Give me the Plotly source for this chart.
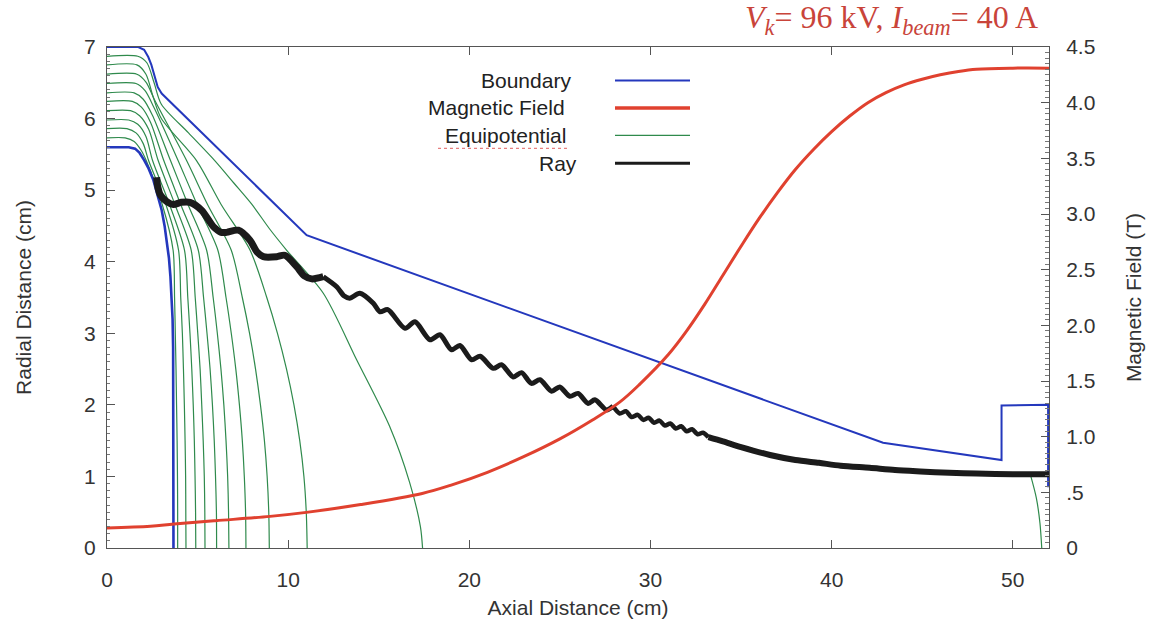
import plotly.graph_objects as go

# ---------------- data ----------------
# Boundary (outer electrode) and cathode, cm
outer_x = [0, 1.73, 2.05, 2.28, 2.45, 2.56, 2.68, 2.8, 3.02, 11.02, 42.84, 49.38, 49.38, 51.95, 51.95]
outer_y = [7.0, 7.0, 6.96, 6.86, 6.75, 6.66, 6.53, 6.44, 6.35, 4.37, 1.47, 1.23, 1.99, 2.0, 0.85]
cath_x = [0, 1.2, 1.55, 1.8, 2.05, 2.3, 2.56, 2.8, 3.02, 3.18, 3.3, 3.42, 3.5, 3.57, 3.62, 3.65, 3.66, 3.67, 3.67]
cath_y = [5.6, 5.6, 5.58, 5.52, 5.42, 5.3, 5.14, 4.94, 4.72, 4.5, 4.3, 4.05, 3.8, 3.5, 3.2, 2.8, 2.3, 1.5, 0]

# Magnetic field on axis (T) vs axial distance (cm)
bz_x = [0, 2.4, 3.7, 6, 9, 11, 14, 17.4, 19, 21, 23, 25, 26.8, 28.3, 29.4, 31, 32, 33, 34, 35, 36, 37, 38, 39, 40,
        41, 42, 43, 44, 45, 46, 47, 48, 50, 52]
bz_t = [0.18, 0.195, 0.215, 0.245, 0.284, 0.32, 0.39, 0.49, 0.565, 0.68, 0.82, 0.98, 1.15, 1.31, 1.47, 1.74, 1.95,
        2.19, 2.45, 2.71, 2.96, 3.19, 3.40, 3.58, 3.74, 3.88, 4.00, 4.09, 4.16, 4.21, 4.25, 4.28, 4.30, 4.31, 4.31]

# Equipotential lines (cm)
eq_lines = [
    ([0, 1.0, 1.5, 1.9, 2.17, 3.05, 3.65, 3.73, 3.77, 3.81, 3.84, 3.87, 3.89, 3.9, 3.9],
     [5.73, 5.73, 5.68, 5.55, 5.41, 4.8, 4.16, 3.5, 3.0, 2.5, 2.0, 1.5, 1.0, 0.5, 0]),
    ([0, 1.1, 1.6, 2.0, 2.3, 3.25, 3.95, 4.07, 4.16, 4.22, 4.27, 4.31, 4.34, 4.35, 4.36],
     [5.86, 5.86, 5.8, 5.65, 5.41, 4.8, 4.16, 3.5, 3.0, 2.5, 2.0, 1.5, 1.0, 0.5, 0]),
    ([0, 1.2, 1.7, 2.15, 2.52, 3.45, 4.28, 4.46, 4.58, 4.68, 4.76, 4.82, 4.86, 4.89, 4.90],
     [5.98, 5.98, 5.92, 5.75, 5.41, 4.8, 4.16, 3.5, 3.0, 2.5, 2.0, 1.5, 1.0, 0.5, 0]),
    ([0, 1.3, 1.8, 2.3, 2.83, 3.75, 4.65, 4.87, 5.01, 5.14, 5.23, 5.31, 5.37, 5.40, 5.41],
     [6.11, 6.11, 6.04, 5.85, 5.41, 4.8, 4.16, 3.5, 3.0, 2.5, 2.0, 1.5, 1.0, 0.5, 0]),
    ([0, 1.4, 1.9, 2.4, 3.14, 4.07, 5.04, 5.33, 5.52, 5.69, 5.82, 5.92, 5.99, 6.04, 6.05],
     [6.24, 6.24, 6.16, 5.95, 5.41, 4.8, 4.16, 3.5, 3.0, 2.5, 2.0, 1.5, 1.0, 0.5, 0]),
    ([0, 1.5, 2.0, 2.5, 3.51, 4.47, 5.5, 5.86, 6.09, 6.29, 6.45, 6.57, 6.66, 6.71, 6.73],
     [6.36, 6.36, 6.27, 6.05, 5.41, 4.8, 4.16, 3.5, 3.0, 2.5, 2.0, 1.5, 1.0, 0.5, 0]),
    ([0, 1.6, 2.1, 2.6, 3.93, 4.97, 6.12, 6.57, 6.86, 7.11, 7.31, 7.47, 7.58, 7.65, 7.67],
     [6.49, 6.49, 6.39, 6.15, 5.41, 4.8, 4.16, 3.5, 3.0, 2.5, 2.0, 1.5, 1.0, 0.5, 0]),
    ([0, 1.65, 2.15, 2.65, 4.4, 5.55, 6.86, 7.47, 7.87, 8.2, 8.47, 8.69, 8.84, 8.93, 8.96],
     [6.62, 6.62, 6.51, 6.25, 5.41, 4.8, 4.16, 3.5, 3.0, 2.5, 2.0, 1.5, 1.0, 0.5, 0]),
    ([0, 1.65, 2.15, 2.55, 3.0, 4.95, 6.3, 7.9, 8.82, 9.41, 9.91, 10.32, 10.64, 10.87, 11.0, 11.05],
     [6.75, 6.75, 6.62, 6.3, 6.0, 5.41, 4.8, 4.16, 3.5, 3.0, 2.5, 2.0, 1.5, 1.0, 0.5, 0]),
    ([0, 1.7, 2.2, 2.6, 3.0, 4.5, 5.96, 7.0, 8.0, 9.0, 9.92, 11.94, 13.78, 15.6, 16.7, 17.3, 17.42],
     [6.87, 6.87, 6.78, 6.5, 6.2, 5.8, 5.41, 5.1, 4.8, 4.45, 4.16, 3.56, 2.63, 1.70, 0.92, 0.3, 0]),
    ([51.0, 51.3, 51.5, 51.6],
     [1.0, 0.7, 0.35, 0]),
]

# Electron ray (cm): resolved wiggles, then the dense band
ray_a_x = [2.74, 2.80, 2.95, 3.3, 3.66, 4.1, 4.58, 5.22, 5.87, 6.3, 6.6, 7.25, 7.89, 8.3, 8.63, 9.37, 9.82, 10.47, 10.9, 11.3, 11.94]
ray_a_y = [5.18, 5.05, 4.93, 4.84, 4.80, 4.83, 4.83, 4.72, 4.49, 4.41, 4.41, 4.44, 4.30, 4.13, 4.07, 4.07, 4.09, 3.93, 3.80, 3.76, 3.79]
ray_b_x = [11.94, 12.68, 13.1, 13.4, 13.96, 14.7, 15.07, 15.5, 16.45, 17.0, 17.83, 18.38, 19.02, 19.48, 20.13, 20.6, 21.32, 21.78,
           22.42, 22.88, 23.43, 23.9, 24.54, 24.99, 25.55, 26.0, 26.56, 26.93, 27.58, 27.94]
ray_b_y = [3.79, 3.65, 3.52, 3.49, 3.56, 3.42, 3.30, 3.33, 3.07, 3.16, 2.91, 2.98, 2.77, 2.83, 2.63, 2.68, 2.51, 2.56,
           2.39, 2.45, 2.30, 2.35, 2.19, 2.25, 2.12, 2.16, 2.02, 2.07, 1.93, 1.98]
ray_c_x = [27.94, 28.3, 28.65, 28.95, 29.3, 29.6, 29.9, 30.2, 30.5, 30.8, 31.1, 31.4, 31.7, 32.0, 32.3, 32.6, 32.9, 33.2]
ray_c_y = [1.98, 1.88, 1.91, 1.83, 1.86, 1.79, 1.82, 1.75, 1.78, 1.71, 1.74, 1.67, 1.70, 1.63, 1.66, 1.59, 1.61, 1.55]
ray_d_x = [33.2, 34.0, 35.0, 36.6, 38.0, 39.3, 40.5, 42.1, 43.5, 44.9, 46.5, 48.0, 50.0, 52.0]
ray_d_y = [1.55, 1.49, 1.41, 1.30, 1.23, 1.19, 1.15, 1.12, 1.09, 1.07, 1.05, 1.04, 1.03, 1.03]

legend_names = ["Boundary", "Magnetic Field", "Equipotential", "Ray"]

BLUE = "#2438bd"
RED = "#e0412f"
GREEN = "#2f8a4c"
BLACK = "#1b1b1b"

fig = go.Figure()

for ex, ey in eq_lines:
    fig.add_trace(go.Scatter(x=ex, y=ey, mode="lines", line=dict(color=GREEN, width=1.2, shape="spline", smoothing=0.8),
                             showlegend=False, hoverinfo="skip"))

fig.add_trace(go.Scatter(x=bz_x, y=bz_t, yaxis="y2", mode="lines", line=dict(color=RED, width=3, shape="spline"),
                         showlegend=False, hoverinfo="skip"))

fig.add_trace(go.Scatter(x=outer_x, y=outer_y, mode="lines", line=dict(color=BLUE, width=2), showlegend=False, hoverinfo="skip"))
fig.add_trace(go.Scatter(x=cath_x, y=cath_y, mode="lines", line=dict(color=BLUE, width=2.6), showlegend=False, hoverinfo="skip"))

for rx, ry, w in [(ray_a_x, ray_a_y, 7), (ray_b_x, ray_b_y, 5), (ray_c_x, ray_c_y, 4.5), (ray_d_x, ray_d_y, 6)]:
    fig.add_trace(go.Scatter(x=rx, y=ry, mode="lines", line=dict(color=BLACK, width=w, shape="spline", smoothing=0.8),
                             showlegend=False, hoverinfo="skip"))

# custom legend: text on the left, line sample on the right
L, R, T, B = 107, 1049, 46.5, 548.5
W, H = R - L, B - T
def px(xp):
    return (xp - L) / W
def py(yp):
    return (B - yp) / H

FONT = "Liberation Sans, Arial"
leg_rows = [80, 107.5, 135, 163]
leg_text_right = [573, 567, 568, 579]
leg_colors = [BLUE, RED, GREEN, BLACK]
leg_widths = [2, 3.5, 1.2, 3]
for name, yr, xr, c, w in zip(legend_names, leg_rows, leg_text_right, leg_colors, leg_widths):
    fig.add_annotation(x=px(xr), y=py(yr), xref="paper", yref="paper", text=name, showarrow=False,
                       xanchor="right", yanchor="middle", font=dict(family=FONT, size=21, color="#222"))
    fig.add_shape(type="line", xref="paper", yref="paper", x0=px(615), x1=px(690), y0=py(yr), y1=py(yr),
                  line=dict(color=c, width=w))
# spell-check squiggle under "Equipotential" as seen in the reference
fig.add_shape(type="line", xref="paper", yref="paper", x0=px(438), x1=px(567), y0=py(148), y1=py(148),
              line=dict(color="#e06060", width=1, dash="dot"))

fig.add_annotation(x=px(1040), y=py(19), xref="paper", yref="paper", showarrow=False, xanchor="right", yanchor="middle",
                   text="<i>V</i><sub><i>k</i></sub>= 96 kV, <i>I</i><sub><i>beam</i></sub>= 40 A",
                   font=dict(family="Liberation Serif, Times New Roman", size=32, color="#c9443a"))

axfont = dict(family=FONT, size=21, color="#333")
fig.update_layout(
    width=1154, height=631,
    margin=dict(l=L, r=1154 - R, t=T, b=631 - B),
    paper_bgcolor="white", plot_bgcolor="white",
    showlegend=False,
    xaxis=dict(range=[0, 52], tickvals=[0, 10, 20, 30, 40, 50], ticks="inside", ticklen=8, tickcolor="#555",
               showline=True, linecolor="#555", linewidth=1, mirror="ticks", showgrid=False, zeroline=False,
               tickfont=axfont, ticklabelstandoff=13,
               title=dict(text="Axial Distance (cm)", font=axfont, standoff=10)),
    yaxis=dict(range=[0, 7], tickvals=[0, 1, 2, 3, 4, 5, 6, 7], ticks="inside", ticklen=8, tickcolor="#555",
               showline=True, linecolor="#555", linewidth=1, mirror=True, showgrid=False, zeroline=False,
               tickfont=axfont, ticklabelstandoff=6,
               minor=dict(dtick=0.1, ticks="inside", ticklen=3, tickcolor="#777"),
               title=dict(text="Radial Distance (cm)", font=axfont, standoff=46)),
    yaxis2=dict(range=[0, 4.5], overlaying="y", side="right", anchor="x",
                tickvals=[0, 0.5, 1, 1.5, 2, 2.5, 3, 3.5, 4, 4.5],
                ticktext=["0", ".5", "1.0", "1.5", "2.0", "2.5", "3.0", "3.5", "4.0", "4.5"],
                ticks="inside", ticklen=8, tickcolor="#555", showline=True, linecolor="#555", linewidth=1,
                showgrid=False, zeroline=False, tickfont=axfont, ticklabelstandoff=12,
                minor=dict(dtick=0.05, ticks="inside", ticklen=4, tickcolor="#777"),
                title=dict(text="Magnetic Field (T)", font=axfont, standoff=31)),
)

fig.write_html("out.html")
